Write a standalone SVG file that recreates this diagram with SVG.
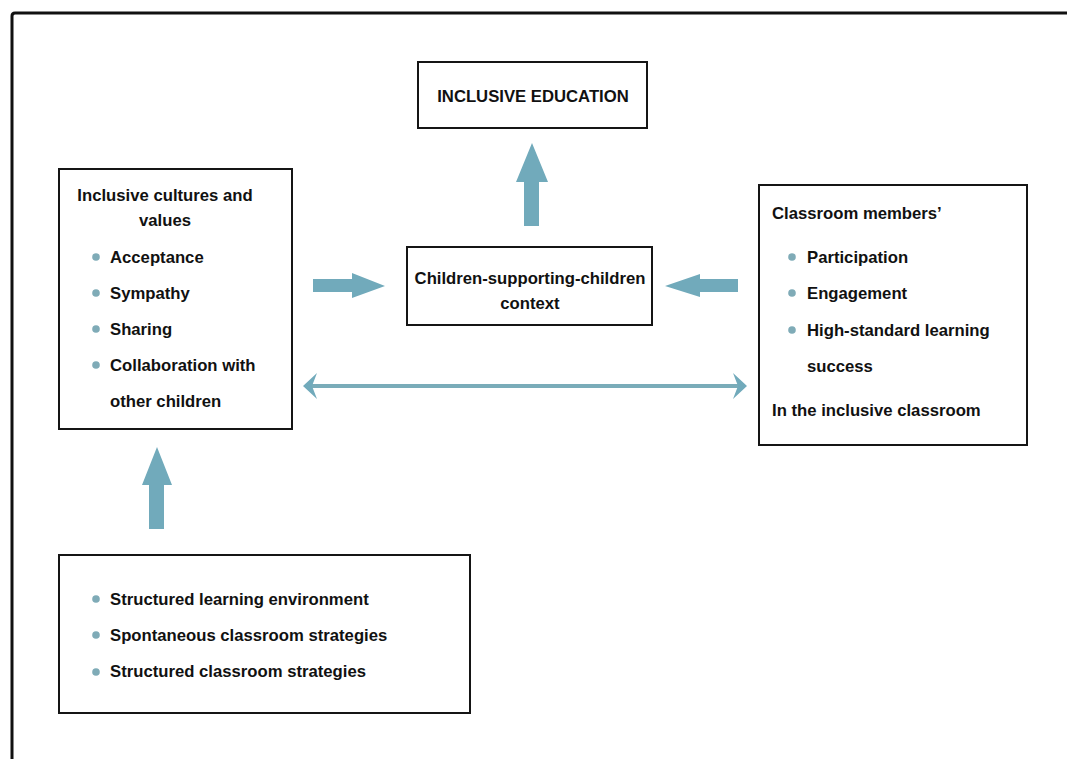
<svg xmlns="http://www.w3.org/2000/svg" width="1067" height="759" viewBox="0 0 1067 759">
<style>
.box{fill:#fff;stroke:#151515;stroke-width:2}
.t{font-family:"Liberation Sans",Arial,sans-serif;font-weight:bold;font-size:16.7px;fill:#111}
.c{text-anchor:middle}
.dot{fill:#7fabb7}
.arr{fill:#71aabb}
</style>
<rect width="1067" height="759" fill="#fff"/>
<path d="M12,759 V16 Q12,13 15,13 H1067" fill="none" stroke="#111" stroke-width="3"/>
<g id="connectors">
<polygon class="arr" points="524,226 524,182 516,182 532,143 548,182 539,182 539,226"/>
<polygon class="arr" points="149,529 149,485 142,485 157,447 172,485 164,485 164,529"/>
<polygon class="arr" points="313,279 352,279 352,273 385,286 352,298 352,292 313,292"/>
<polygon class="arr" points="738,279 700,279 700,274 665,286 700,297 700,292 738,292"/>
<line x1="310" y1="386" x2="740" y2="386" stroke="#7aacb9" stroke-width="4"/>
<polygon class="arr" points="303,386 317,373 312,386 317,399"/>
<polygon class="arr" points="747,386 733,373 738,386 733,399"/>
</g>
<g id="inclusive-education">
<rect class="box" x="418" y="62" width="229" height="66"/>
<text class="t c" x="533" y="102">INCLUSIVE EDUCATION</text>
</g>
<g id="children-context">
<rect class="box" x="407" y="247" width="245" height="78"/>
<text class="t c" x="530" y="284">Children-supporting-children</text>
<text class="t c" x="530" y="309">context</text>
</g>
<g id="cultures-values">
<rect class="box" x="59" y="169" width="233" height="260"/>
<text class="t c" x="165" y="201">Inclusive cultures and</text>
<text class="t c" x="165" y="226">values</text>
<circle class="dot" cx="96" cy="257" r="3.8"/><text class="t" x="110" y="263">Acceptance</text>
<circle class="dot" cx="96" cy="293" r="3.8"/><text class="t" x="110" y="299">Sympathy</text>
<circle class="dot" cx="96" cy="329" r="3.8"/><text class="t" x="110" y="335">Sharing</text>
<circle class="dot" cx="96" cy="365" r="3.8"/><text class="t" x="110" y="371">Collaboration with</text>
<text class="t" x="110" y="407">other children</text>
</g>
<g id="classroom-members">
<rect class="box" x="759" y="185" width="268" height="260"/>
<text class="t" x="772" y="219">Classroom members’</text>
<circle class="dot" cx="792" cy="257" r="3.8"/><text class="t" x="807" y="263">Participation</text>
<circle class="dot" cx="792" cy="293" r="3.8"/><text class="t" x="807" y="299">Engagement</text>
<circle class="dot" cx="792" cy="330" r="3.8"/><text class="t" x="807" y="336">High-standard learning</text>
<text class="t" x="807" y="372">success</text>
<text class="t" x="772" y="416">In the inclusive classroom</text>
</g>
<g id="strategies">
<rect class="box" x="59" y="555" width="411" height="158"/>
<circle class="dot" cx="96" cy="599" r="3.8"/><text class="t" x="110" y="605">Structured learning environment</text>
<circle class="dot" cx="96" cy="635" r="3.8"/><text class="t" x="110" y="641">Spontaneous classroom strategies</text>
<circle class="dot" cx="96" cy="672" r="3.8"/><text class="t" x="110" y="677">Structured classroom strategies</text>
</g>
</svg>
